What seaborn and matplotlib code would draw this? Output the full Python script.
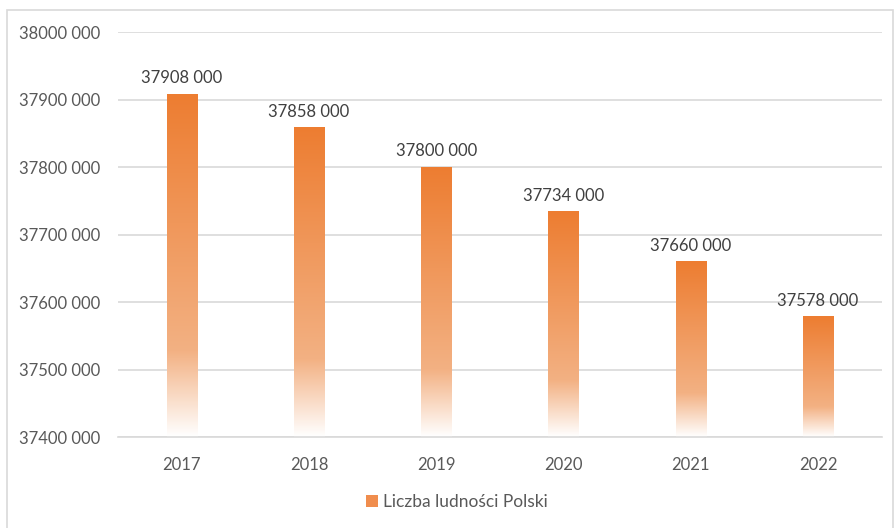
import numpy as np
import pandas as pd
import matplotlib
matplotlib.use("Agg")
import matplotlib.pyplot as plt
import seaborn as sns
from matplotlib.colors import LinearSegmentedColormap
from matplotlib.patches import Rectangle, Patch
from matplotlib.ticker import FuncFormatter, MultipleLocator

years = ["2017", "2018", "2019", "2020", "2021", "2022"]
population = [37908000, 37858000, 37800000, 37734000, 37660000, 37578000]
series_name = "Liczba ludności Polski"

df = pd.DataFrame({"Rok": years, "Ludnosc": population})

sns.set_style("white")
plt.rcParams["font.family"] = ["Lato", "DejaVu Sans"]


def fmt(v, pos=None):
    v = int(round(v))
    return f"{v // 1000} {v % 1000:03d}"


fig = plt.figure(figsize=(8.96, 5.28), dpi=100)
ax = fig.add_axes([0.132, 0.172, 0.852, 0.767])

sns.barplot(data=df, x="Rok", y="Ludnosc", color="#ED7D31", width=0.24, ax=ax)

ymin, ymax = 37400000, 38000000
ax.set_ylim(ymin, ymax)
xlim = ax.get_xlim()

# gradient fill: orange at top fading to white at the bottom
cmap = LinearSegmentedColormap.from_list(
    "grad", [(0.0, "#FFFFFF"), (0.25, "#F3B183"), (1.0, "#ED7D31")])
grad = np.linspace(0, 1, 256).reshape(-1, 1)
for p, v in zip(ax.patches, population):
    x0 = p.get_x()
    w = p.get_width()
    p.set_facecolor("none")
    p.set_edgecolor("none")
    ax.imshow(grad, cmap=cmap, origin="lower", aspect="auto",
              extent=(x0, x0 + w, ymin, v), zorder=2)
    ax.text(x0 + w / 2, v + 12000, fmt(v), ha="center", va="bottom",
            fontsize=12, color="#404040")

ax.set_xlim(xlim)
ax.set_ylim(ymin, ymax)

ax.yaxis.set_major_locator(MultipleLocator(100000))
ax.yaxis.set_major_formatter(FuncFormatter(fmt))
ax.grid(axis="y", color="#D9D9D9", linewidth=1.2, zorder=0)
ax.set_axisbelow(True)
ax.tick_params(axis="both", length=0, labelsize=12, labelcolor="#595959")
ax.tick_params(axis="y", pad=13)
ax.tick_params(axis="x", pad=14)
ax.set_xlabel("")
ax.set_ylabel("")
for s in ["top", "right", "left"]:
    ax.spines[s].set_visible(False)
ax.spines["bottom"].set_color("#D9D9D9")
ax.spines["bottom"].set_linewidth(1.2)

handle = Patch(facecolor="#F08D4D", edgecolor="none")
fig.legend([handle], [series_name], loc="center", bbox_to_anchor=(0.51, 0.049),
           frameon=False, fontsize=12.5, handlelength=0.7, handleheight=0.7,
           handletextpad=0.3, labelcolor="#595959")

fig.patches.append(Rectangle((7 / 896, -0.02), 886 / 896, 1 - 10 / 528 + 0.02,
                             transform=fig.transFigure, fill=False,
                             edgecolor="#D9D9D9", linewidth=1.2))

fig.savefig("out.png", dpi=100)
